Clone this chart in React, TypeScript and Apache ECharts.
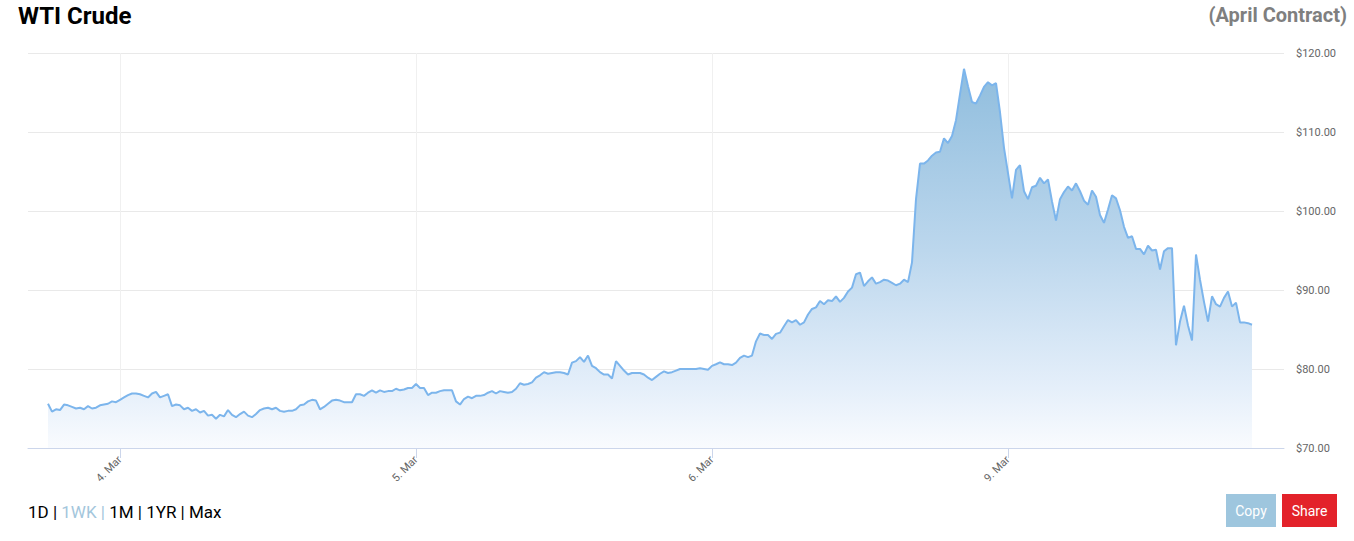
import React, { useEffect, useRef } from "react";
import * as echarts from "echarts";

// x-axis: evenly spaced trading-time slots; day labels sit at the slots below
const dayLabels = ["4. Mar", "5. Mar", "6. Mar", "9. Mar"];
const dayStartIndex = [23, 97, 171, 245];
const slotCount = 315;
const dataStartIndex = 5;

// WTI price (USD) for each slot from dataStartIndex onward
const prices = [
  75.6, 74.6, 74.9, 74.8, 75.5, 75.4, 75.2, 75.0, 75.1, 74.9,
  75.3, 75.0, 75.1, 75.4, 75.5, 75.6, 75.9, 75.8, 76.1, 76.4,
  76.7, 76.9, 76.9, 76.8, 76.6, 76.4, 76.9, 77.1, 76.4, 76.6,
  76.8, 75.3, 75.5, 75.4, 74.9, 75.1, 74.7, 74.9, 74.5, 74.7,
  74.1, 74.2, 73.7, 74.2, 74.0, 74.8, 74.2, 73.9, 74.3, 74.6,
  74.1, 73.9, 74.3, 74.8, 75.0, 75.1, 74.9, 75.1, 74.7, 74.6,
  74.7, 74.7, 74.9, 75.4, 75.5, 75.9, 76.1, 76.0, 74.9, 75.2,
  75.6, 76.0, 76.1, 76.0, 75.8, 75.8, 75.8, 76.8, 76.8, 76.6,
  77.0, 77.3, 77.0, 77.3, 77.1, 77.2, 77.2, 77.5, 77.3, 77.4,
  77.6, 77.6, 78.1, 77.6, 77.6, 76.7, 77.0, 77.0, 77.2, 77.3,
  77.3, 77.3, 75.9, 75.5, 76.2, 76.5, 76.3, 76.6, 76.6, 76.7,
  77.0, 77.2, 76.9, 77.2, 77.1, 77.0, 77.1, 77.5, 78.2, 78.0,
  78.1, 78.3, 78.9, 79.2, 79.6, 79.4, 79.5, 79.6, 79.6, 79.5,
  79.3, 80.8, 81.0, 81.5, 80.9, 81.7, 80.4, 80.1, 79.6, 79.3,
  79.3, 78.8, 81.0, 80.4, 79.8, 79.3, 79.5, 79.5, 79.5, 79.3,
  78.9, 78.6, 79.0, 79.4, 79.7, 79.5, 79.6, 79.8, 80.0, 80.0,
  80.0, 80.0, 80.0, 80.1, 80.0, 79.9, 80.4, 80.6, 80.85, 80.6,
  80.6, 80.5, 80.8, 81.4, 81.7, 81.5, 81.7, 83.5, 84.5, 84.3,
  84.3, 83.8, 84.45, 84.6, 85.4, 86.2, 85.9, 86.2, 85.6, 85.9,
  86.9, 87.6, 87.8, 88.6, 88.2, 88.7, 88.6, 89.2, 88.5, 89.0,
  89.8, 90.3, 92.0, 92.2, 90.5, 91.1, 91.6, 90.8, 91.0, 91.3,
  91.2, 90.9, 90.6, 90.8, 91.3, 91.0, 93.5, 101.5, 106.0, 106.0,
  106.4, 107.0, 107.4, 107.5, 109.2, 108.6, 109.5, 111.5, 114.8, 118.0,
  115.8, 113.8, 113.6, 114.6, 115.7, 116.3, 115.9, 116.2, 112.5, 108.0,
  104.8, 101.6, 105.2, 105.8, 102.5, 101.5, 103.0, 103.2, 104.2, 103.5,
  104.0, 101.2, 98.8, 101.5, 102.4, 103.1, 102.6, 103.5, 102.5, 101.3,
  100.8, 102.6, 101.8, 99.5, 98.5, 100.2, 102.0, 101.6, 100.1, 98.0,
  96.6, 96.8, 95.2, 95.2, 94.5, 95.6, 95.0, 95.1, 92.6, 94.9,
  95.3, 95.3, 83.0, 86.0, 88.0, 85.5, 83.6, 94.5, 91.3, 88.5,
  86.0, 89.2, 88.2, 87.9, 89.0, 89.8, 87.9, 88.4, 85.9, 85.9,
  85.8, 85.6,
];

const yMin = 70;
const yMax = 120;
const yStep = 10;

const rangeButtons = ["1D", "1WK", "1M", "1YR", "Max"];
const activeRange = "1WK";

export default function App() {
  const ref = useRef<HTMLDivElement>(null);

  useEffect(() => {
    if (!ref.current) return;
    const chart = echarts.init(ref.current, undefined, { renderer: "svg" });

    const categories: string[] = [];
    for (let i = 0; i < slotCount; i++) {
      const k = dayStartIndex.indexOf(i);
      categories.push(k >= 0 ? dayLabels[k] : "t" + i);
    }
    const seriesData: (number | null)[] = new Array(slotCount).fill(null);
    prices.forEach((p, j) => {
      seriesData[dataStartIndex + j] = p;
    });
    const isDay = (idx: number) => dayStartIndex.indexOf(idx) >= 0;

    const richParts: string[] = [];
    rangeButtons.forEach((b, i) => {
      const style = b === activeRange ? "a" : "n";
      const sep = i < rangeButtons.length - 1 ? " | " : "";
      richParts.push(`{${style}|${b}${sep}}`);
    });

    chart.setOption({
      animation: false,
      backgroundColor: "#ffffff",
      textStyle: { fontFamily: "Roboto" },
      grid: { left: 28, right: 70, top: 53, bottom: 93, containLabel: false },
      xAxis: {
        type: "category",
        data: categories,
        boundaryGap: false,
        axisLine: { lineStyle: { color: "#ccd6eb", width: 1 } },
        axisTick: {
          interval: (idx: number) => isDay(idx),
          length: 10,
          lineStyle: { color: "#ccd6eb" },
        },
        axisLabel: {
          interval: (idx: number) => isDay(idx),
          rotate: 45,
          color: "#666666",
          fontSize: 11,
          margin: 10,
          fontFamily: "Roboto",
        },
        splitLine: {
          show: true,
          interval: (idx: number) => isDay(idx),
          lineStyle: { color: "#f0f0f0", width: 1 },
        },
      },
      yAxis: {
        type: "value",
        position: "right",
        min: yMin,
        max: yMax,
        interval: yStep,
        axisLine: { show: false },
        axisTick: { show: false },
        axisLabel: {
          color: "#666666",
          fontSize: 11,
          margin: 12,
          fontFamily: "Roboto",
          formatter: (v: number) => "$" + v.toFixed(2),
        },
        splitLine: { lineStyle: { color: "#e9e9e9", width: 1 } },
      },
      series: [
        {
          type: "line",
          data: seriesData,
          showSymbol: false,
          symbol: "none",
          connectNulls: false,
          lineStyle: { color: "#7cb5ec", width: 2 },
          itemStyle: { color: "#7cb5ec" },
          areaStyle: {
            color: {
              type: "linear",
              x: 0,
              y: 53,
              x2: 0,
              y2: 448,
              global: true,
              colorStops: [
                { offset: 0, color: "rgb(140,187,220)" },
                { offset: 0.5, color: "rgb(188,215,237)" },
                { offset: 0.85, color: "rgb(229,239,250)" },
                { offset: 1, color: "rgb(249,251,254)" },
              ],
            },
            opacity: 1,
          },
        },
      ],
      graphic: [
        {
          type: "text",
          left: 18,
          top: 4,
          style: {
            text: "WTI Crude",
            fill: "#000000",
            font: "bold 24px Roboto",
          },
        },
        {
          type: "text",
          right: 7,
          top: 5,
          style: {
            text: "(April Contract)",
            fill: "#7f7f7f",
            font: "bold 20px Roboto",
          },
        },
        {
          type: "text",
          left: 28,
          top: 503,
          style: {
            text: richParts.join(""),
            rich: {
              n: { fill: "#000000", fontSize: 17, fontFamily: "Roboto" },
              a: { fill: "#a3c6dc", fontSize: 17, fontFamily: "Roboto" },
            },
          },
        },
        {
          type: "rect",
          shape: { x: 1226, y: 494, width: 50, height: 33 },
          style: { fill: "#9ec6de" },
        },
        {
          type: "text",
          x: 1251,
          y: 510.5,
          style: {
            text: "Copy",
            fill: "#ffffff",
            font: "14px Roboto",
            align: "center",
            verticalAlign: "middle",
          },
        },
        {
          type: "rect",
          shape: { x: 1282, y: 494, width: 55, height: 33 },
          style: { fill: "#e3222a" },
        },
        {
          type: "text",
          x: 1309.5,
          y: 510.5,
          style: {
            text: "Share",
            fill: "#ffffff",
            font: "14px Roboto",
            align: "center",
            verticalAlign: "middle",
          },
        },
      ],
    });

    return () => chart.dispose();
  }, []);

  return (
    <div
      ref={ref}
      style={{ position: "absolute", left: 0, top: 0, width: 1354, height: 541 }}
    />
  );
}
